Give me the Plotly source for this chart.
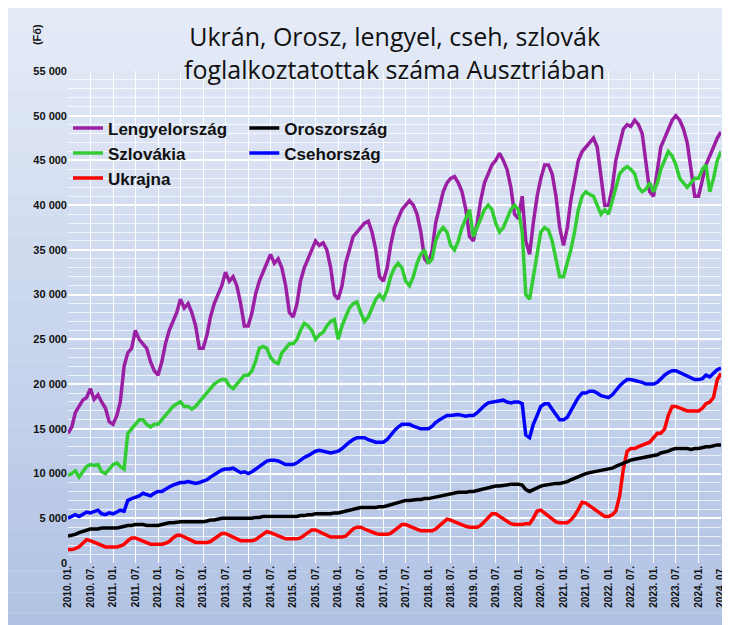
import pandas as pd
import plotly.graph_objects as go

poland = [
 14.5,15.2,16.8,17.5,18.2,18.5,19.5,18.3,18.8,18.0,17.3,15.8,
 15.5,16.5,18.0,22.0,23.5,24.0,26.0,25.0,24.5,24.0,22.5,21.5,
 21.0,22.5,24.5,26.0,27.0,28.0,29.5,28.5,29.0,28.0,26.5,24.0,
 24.0,25.5,27.5,29.0,30.0,31.0,32.5,31.5,32.0,31.0,29.0,26.5,
 26.5,28.0,30.0,31.5,32.5,33.5,34.5,33.5,34.0,33.0,31.0,28.0,
 27.5,29.0,31.5,33.0,34.0,35.0,36.0,35.5,35.8,35.0,33.0,30.0,
 29.5,31.0,33.5,35.0,36.5,37.0,37.5,38.0,38.2,37.0,35.0,32.0,
 31.5,33.0,35.5,37.5,38.5,39.5,40.0,40.5,40.0,39.0,37.0,34.0,
 33.5,35.0,38.0,40.0,41.5,42.5,43.0,43.2,42.5,41.5,39.5,36.5,
 36.0,38.0,40.5,42.5,43.5,44.5,45.0,45.8,45.0,44.0,42.0,39.0,
 38.5,41.0,36.0,34.5,38.0,41.0,43.0,44.5,44.5,43.5,41.0,37.5,
 35.5,37.5,40.5,43.0,45.0,46.0,46.5,47.0,47.5,46.5,43.5,40.0,
 40.0,42.0,45.0,47.0,48.5,49.0,48.8,49.5,49.0,48.0,45.0,41.5,
 41.0,44.0,46.5,47.5,48.5,49.5,50.0,49.5,48.5,47.0,44.0,41.0,
 41.0,43.0,44.5,45.5,46.5,47.5,48.2]
russia = [
 3.0,3.1,3.2,3.4,3.5,3.6,3.8,3.8,3.8,3.9,3.9,3.9,
 3.9,3.9,4.0,4.1,4.2,4.2,4.3,4.3,4.3,4.2,4.2,4.2,
 4.2,4.3,4.4,4.5,4.5,4.6,4.6,4.6,4.6,4.6,4.6,4.6,
 4.6,4.7,4.8,4.8,4.9,5.0,5.0,5.0,5.0,5.0,5.0,5.0,
 5.0,5.0,5.1,5.1,5.2,5.2,5.2,5.2,5.2,5.2,5.2,5.2,
 5.2,5.2,5.3,5.3,5.4,5.4,5.5,5.5,5.5,5.5,5.5,5.6,
 5.6,5.7,5.8,5.9,6.0,6.1,6.2,6.2,6.2,6.2,6.2,6.3,
 6.3,6.4,6.5,6.7,6.8,6.9,7.0,7.0,7.1,7.1,7.1,7.2,
 7.2,7.3,7.4,7.5,7.6,7.7,7.8,7.8,7.9,7.9,7.9,8.0,
 8.0,8.1,8.2,8.3,8.4,8.5,8.6,8.6,8.7,8.7,8.8,8.8,
 8.8,8.7,8.2,8.0,8.2,8.4,8.6,8.7,8.8,8.8,8.9,8.9,
 9.0,9.1,9.3,9.5,9.7,9.9,10.0,10.1,10.2,10.3,10.4,10.5,
 10.5,10.6,10.8,11.0,11.2,11.4,11.5,11.6,11.7,11.8,11.9,12.0,
 12.0,12.1,12.3,12.4,12.5,12.7,12.8,12.8,12.8,12.8,12.7,12.8,
 12.8,12.9,13.0,13.0,13.1,13.2,13.2]
slovakia = [
 9.8,10.0,10.3,9.6,10.2,10.8,11.0,10.9,11.0,10.2,10.0,10.5,
 11.0,11.2,10.8,10.5,14.5,15.0,15.5,16.0,16.0,15.5,15.2,15.5,
 15.5,16.0,16.5,17.0,17.5,17.8,18.0,17.5,17.5,17.2,17.5,18.0,
 18.5,19.0,19.5,20.0,20.3,20.5,20.5,19.8,19.5,20.0,20.5,21.0,
 21.0,21.5,22.5,24.0,24.2,24.0,23.0,22.5,22.3,23.5,24.0,24.5,
 24.5,25.0,26.0,26.8,26.5,26.0,25.0,25.5,25.8,26.5,27.0,27.2,
 25.0,26.5,27.5,28.5,29.0,29.2,28.0,27.0,27.5,28.5,29.5,30.0,
 29.5,30.5,32.0,33.0,33.5,33.0,31.5,31.0,32.0,33.5,34.5,35.0,
 33.5,34.0,36.0,37.0,37.5,37.0,35.5,35.0,36.0,37.5,38.5,39.5,
 36.5,37.5,38.5,39.5,40.0,39.5,38.0,37.0,37.5,38.5,39.5,40.0,
 39.5,37.0,30.0,29.5,32.0,35.0,37.0,37.5,37.2,36.0,34.0,32.0,
 32.0,33.5,35.0,37.0,39.5,41.0,41.5,41.2,41.0,40.0,39.0,39.5,
 39.0,40.5,42.0,43.5,44.0,44.3,44.0,43.5,42.0,41.5,41.8,42.5,
 41.5,42.5,44.0,45.0,46.0,45.5,44.5,43.0,42.5,42.0,42.5,43.0,
 43.0,44.0,44.5,41.5,43.0,45.0,46.0]
czechia = [
 5.0,5.2,5.4,5.2,5.5,5.7,5.6,5.7,5.9,5.5,5.4,5.6,
 5.5,5.7,5.9,5.8,7.0,7.2,7.3,7.5,7.8,7.6,7.5,7.8,
 8.0,8.0,8.3,8.5,8.7,8.9,9.0,9.0,9.1,9.0,8.9,9.0,
 9.2,9.3,9.6,9.9,10.2,10.4,10.5,10.5,10.6,10.3,10.1,10.2,
 10.0,10.2,10.5,10.8,11.1,11.4,11.5,11.5,11.4,11.2,11.0,11.0,
 11.0,11.2,11.5,11.8,12.0,12.3,12.5,12.6,12.5,12.4,12.3,12.4,
 12.5,12.8,13.2,13.5,13.8,14.0,14.0,14.0,13.8,13.6,13.5,13.5,
 13.5,13.8,14.3,14.8,15.2,15.5,15.5,15.5,15.3,15.1,15.0,15.0,
 15.0,15.3,15.7,16.0,16.3,16.5,16.5,16.6,16.6,16.5,16.4,16.5,
 16.5,16.8,17.2,17.6,17.9,18.0,18.0,18.2,18.2,18.0,17.9,18.0,
 18.0,17.8,14.3,14.0,15.5,16.5,17.5,17.8,17.8,17.2,16.5,16.0,
 16.0,16.3,17.0,17.8,18.5,19.0,19.0,19.2,19.2,19.0,18.7,18.6,
 18.5,18.8,19.3,19.8,20.2,20.5,20.5,20.4,20.3,20.2,20.0,20.0,
 20.0,20.2,20.6,21.0,21.3,21.5,21.5,21.3,21.0,20.8,20.6,20.5,
 20.5,20.6,21.0,20.8,21.2,21.6,21.8]
ukraine = [
 1.5,1.5,1.6,1.8,2.2,2.6,2.5,2.3,2.1,1.9,1.8,1.8,
 1.8,1.8,1.9,2.1,2.5,2.8,2.8,2.6,2.4,2.2,2.1,2.1,
 2.1,2.1,2.2,2.4,2.8,3.1,3.1,2.9,2.6,2.4,2.3,2.3,
 2.3,2.3,2.4,2.7,3.0,3.3,3.3,3.1,2.8,2.6,2.5,2.5,
 2.5,2.5,2.6,2.9,3.2,3.5,3.4,3.2,3.0,2.8,2.7,2.7,
 2.7,2.7,2.8,3.1,3.4,3.7,3.7,3.5,3.2,3.0,2.9,2.9,
 2.9,2.9,3.0,3.4,3.8,4.0,4.0,3.8,3.6,3.4,3.3,3.2,
 3.2,3.2,3.3,3.6,4.0,4.3,4.3,4.1,3.9,3.7,3.6,3.6,
 3.6,3.6,3.8,4.2,4.6,4.9,4.8,4.6,4.4,4.2,4.1,4.0,
 4.0,4.0,4.2,4.6,5.1,5.5,5.5,5.2,4.9,4.6,4.4,4.3,
 4.3,4.3,4.4,4.4,5.0,5.8,5.9,5.6,5.2,4.9,4.6,4.5,
 4.5,4.5,4.8,5.3,6.0,6.8,6.7,6.4,6.1,5.7,5.4,5.2,
 5.2,5.4,5.8,7.5,10.5,12.5,12.8,12.8,13.0,13.2,13.3,13.5,
 14.0,14.5,14.5,15.0,16.5,17.5,17.5,17.3,17.2,17.0,17.0,17.0,
 17.0,17.3,17.8,18.0,18.5,20.5,21.2]

n = len(poland)
dates = pd.date_range("2010-01-01", periods=n, freq="MS")
tick_dates = dates[::6]
tick_text = [f"<b>{d.year}. {d.month:02d}.</b>" for d in tick_dates]
ytick_vals = list(range(0, 55001, 5000))
ytick_text = ["<b>" + (f"{v:,}".replace(",", " ")) + "</b>" for v in ytick_vals]

fig = go.Figure()
steps = 40
for i in range(steps):
    t = i / (steps - 1)
    r = int(236 + (166 - 236) * t); g = int(241 + (186 - 241) * t); b = int(250 + (224 - 250) * t)
    fig.add_shape(type="rect", xref="paper", yref="paper", layer="below",
                  x0=-0.2, x1=1.2, y0=1.3 - (i + 1) * 1.7 / steps, y1=1.3 - i * 1.7 / steps,
                  line_width=0, fillcolor=f"rgb({r},{g},{b})")

series = [
    ("Lengyelország", poland, "#9b1fa3", "legend"),
    ("Szlovákia", slovakia, "#33cc33", "legend"),
    ("Ukrajna", ukraine, "#ff0000", "legend"),
    ("Oroszország", russia, "#000000", "legend2"),
    ("Csehország", czechia, "#0000ff", "legend2"),
]
for name, vals, col, lg in series:
    fig.add_trace(go.Scatter(x=dates, y=[v * 1000 for v in vals], name=f"<b>{name}</b>", mode="lines",
                             line=dict(color=col, width=3.5), legend=lg))

legfont = dict(family="Liberation Sans", size=17, color="#111111")
fig.update_layout(
    width=730, height=625,
    paper_bgcolor="#dfe7f4", plot_bgcolor="rgba(0,0,0,0)",
    margin=dict(l=60, r=14, t=63, b=70),
    showlegend=True,
    legend=dict(x=0.0, y=0.92, xanchor="left", yanchor="top", bgcolor="rgba(0,0,0,0)",
                font=legfont, itemwidth=30, tracegroupgap=0),
    legend2=dict(x=0.27, y=0.92, xanchor="left", yanchor="top", bgcolor="rgba(0,0,0,0)",
                 font=legfont, itemwidth=30),
    annotations=[
        dict(text="Ukrán, Orosz, lengyel, cseh, szlovák<br>foglalkoztatottak száma Ausztriában",
             xref="paper", yref="paper", x=0.5, y=1.11, xanchor="center", yanchor="top",
             showarrow=False, font=dict(family="Open Sans", size=25, color="#111111")),
        dict(text="<b>(Fő)</b>", xref="paper", yref="paper", x=-0.06, y=1.1, textangle=-90,
             showarrow=False, font=dict(family="Liberation Sans", size=11, color="#111111")),
    ],
)
fig.update_xaxes(range=[dates[0], dates[-1]], tickvals=tick_dates, ticktext=tick_text,
                 tickangle=-90, tickfont=dict(family="Liberation Sans", size=10, color="#111111"),
                 showgrid=True, gridcolor="white", gridwidth=1, zeroline=False, ticks="")
fig.update_yaxes(range=[0, 55000], tickvals=ytick_vals, ticktext=ytick_text,
                 tickfont=dict(family="Liberation Sans", size=11, color="#111111"),
                 showgrid=True, gridcolor="white", gridwidth=1.5, zeroline=False,
                 minor=dict(dtick=1000, showgrid=True, gridcolor="rgba(255,255,255,0.7)", gridwidth=0.7))
fig.write_html("out.html")
